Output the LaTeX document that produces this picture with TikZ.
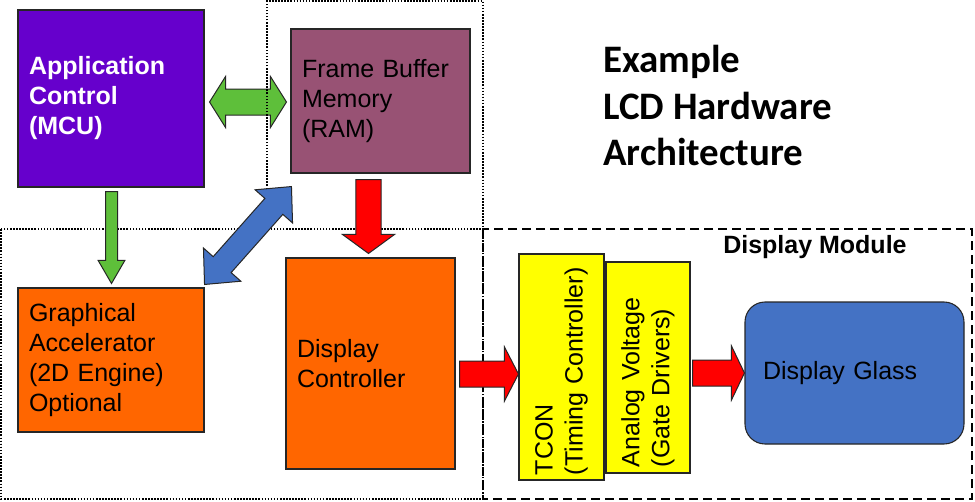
\documentclass[tikz,border=0pt]{standalone}
\usepackage{fontspec}
\setmainfont{Liberation Sans}
\newfontfamily\titlefont{Carlito}
\usetikzlibrary{calc}
\definecolor{mcupurple}{HTML}{6600CC}
\definecolor{fbmauve}{HTML}{985274}
\definecolor{boxorange}{HTML}{FF6600}
\definecolor{boxyellow}{HTML}{FFFF00}
\definecolor{glassblue}{HTML}{4472C4}
\definecolor{arrowgreen}{HTML}{5EBF3A}
\definecolor{arrowred}{HTML}{FF0000}
\newcommand\bodyfont{\fontsize{18.75pt}{22.5pt}\selectfont}
\newcommand\bigtitlefont{\titlefont\bfseries\fontsize{29.2pt}{35pt}\selectfont}
% single block arrow: style, start, tip, shaft half, head half, head length
\newcommand\blockarrow[6]{%
  \coordinate (bas) at (#2);
  \coordinate (bat) at (#3);
  \coordinate (bah) at ($(bat)!#6!(bas)$);
  \draw[#1] ($(bas)!#4!90:(bat)$) -- ($(bah)!#4!90:(bat)$) -- ($(bah)!#5!90:(bat)$) -- (bat)
    -- ($(bah)!#5!-90:(bat)$) -- ($(bah)!#4!-90:(bat)$) -- ($(bas)!#4!-90:(bat)$) -- cycle;
}
% double block arrow: style, tipA, tipB, shaft half, head half, head length
\newcommand\dblarrow[6]{%
  \coordinate (daa) at (#2);
  \coordinate (dab) at (#3);
  \coordinate (dha) at ($(daa)!#6!(dab)$);
  \coordinate (dhb) at ($(dab)!#6!(daa)$);
  \draw[#1] (daa) -- ($(dha)!#5!90:(dab)$) -- ($(dha)!#4!90:(dab)$) -- ($(dhb)!#4!90:(dab)$)
    -- ($(dhb)!#5!90:(dab)$) -- (dab) -- ($(dhb)!#5!-90:(dab)$) -- ($(dhb)!#4!-90:(dab)$)
    -- ($(dha)!#4!-90:(dab)$) -- ($(dha)!#5!-90:(dab)$) -- cycle;
}
\tikzset{
  box/.style={draw=black!85, line width=0.8pt, inner sep=0pt, align=left, font=\bodyfont},
  dotline/.style={line width=1.4pt, dash pattern=on 1.2pt off 1.1pt, black},
  dashline/.style={line width=1.8pt, dash pattern=on 6.75pt off 3.75pt, black},
  barrow/.style={draw=black!85, line width=0.75pt},
  titletext/.style={font=\bigtitlefont, inner sep=0pt, anchor=base west}
}
\begin{document}
\begin{tikzpicture}[x=0.75pt, y=-0.75pt]
\useasboundingbox[fill=white] (0,0) rectangle (975,501);

% boxes
\node[box, fill=mcupurple, text=white, font=\bodyfont\bfseries, minimum width=139.5pt, minimum height=132.75pt, text width=123pt] (mcu) at (111,98.5) {Application\\Control\\(MCU)};
\node[box, fill=fbmauve, minimum width=134.25pt, minimum height=108pt, text width=117.75pt] (fb) at (380.5,101) {Frame Buffer\\Memory\\(RAM)};
\node[box, fill=boxorange, minimum width=139.5pt, minimum height=108pt, text width=123pt] (ga) at (111,360) {Graphical\\Accelerator\\(2D Engine)\\Optional};
\node[box, fill=boxorange, minimum width=126.75pt, minimum height=158.25pt, text width=110.25pt] (dc) at (370.5,363.5) {Display\\Controller};
\node[box, fill=boxyellow, rotate=90, minimum width=169.5pt, minimum height=63.75pt, text width=162pt] (tcon) at (561.5,367) {TCON\\(Timing Controller)};
\node[box, fill=boxyellow, rotate=90, minimum width=158.25pt, minimum height=63pt, text width=149.25pt] (av) at (648,367.5) {Analog Voltage\\(Gate Drivers)};
\node[box, fill=glassblue, rounded corners=15pt, minimum width=164.25pt, minimum height=106.5pt, text width=137.25pt] (dg) at (854.5,373) {Display Glass};

% green double arrow MCU <-> frame buffer
\dblarrow{barrow, fill=arrowgreen}{$(mcu.east)+(5,3.5)$}{$(fb.west)+(-4,1)$}{9.75pt}{19.1pt}{12pt}

% grouping frames
\draw[dotline] (267,229) -- (267,1) -- (483,1) -- (483,229);
\draw[dotline] (1,229) rectangle (483,499);
\draw[dashline] (483,229) rectangle (972,499);

% other arrows
\blockarrow{barrow, fill=arrowgreen}{$(mcu.south)+(0.5,4)$}{$(ga.north)+(0.5,-4)$}{4.5pt}{10pt}{17.25pt}
\blockarrow{barrow, fill=arrowred}{$(fb.south)+(-12,6)$}{$(dc.north)+(-2,-4)$}{9.4pt}{19.5pt}{14.25pt}
\dblarrow{barrow, fill=glassblue}{$(ga.north east)+(0,-3)$}{$(fb.south west)+(1,13)$}{9pt}{18.75pt}{19.9pt}
\blockarrow{barrow, fill=arrowred}{$(dc.east)+(4,10.5)$}{$(tcon.north)+(0,7)$}{9.75pt}{20.25pt}{10.5pt}
\blockarrow{barrow, fill=arrowred}{$(av.south)+(2,5.5)$}{dg.west}{9.75pt}{20.25pt}{9.75pt}

% texts
\node[anchor=base west, inner sep=0pt, font=\bodyfont\bfseries] (dm) at (723,253) {Display Module};
\node[titletext] (t1) at (603,72) {Example};
\node[titletext] (t2) at (603,119) {LCD Hardware};
\node[titletext] (t3) at (603,165) {Architecture};
\end{tikzpicture}
\end{document}
